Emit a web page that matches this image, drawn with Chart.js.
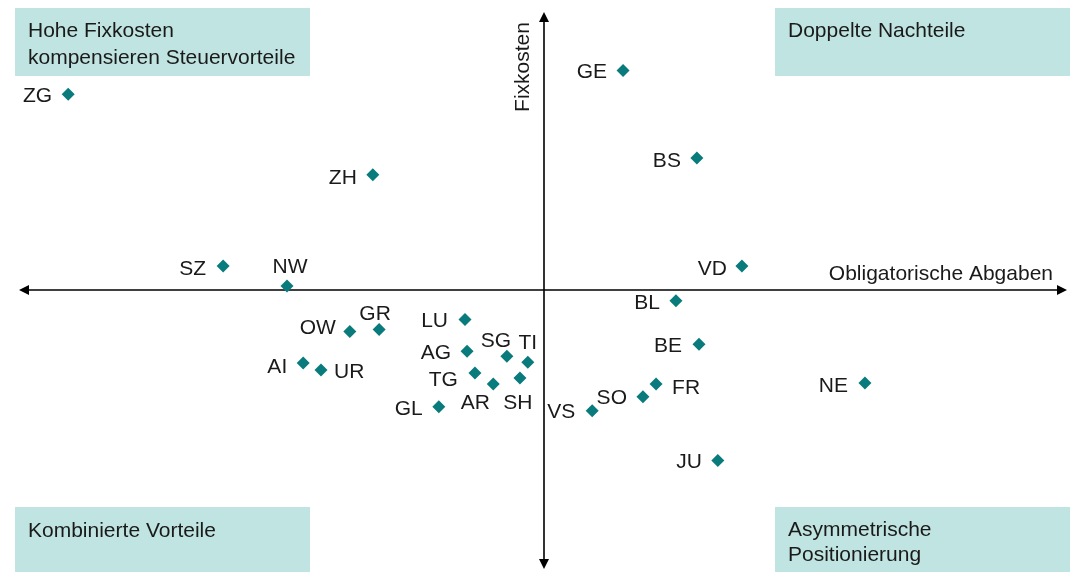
<!DOCTYPE html>
<html>
<head>
<meta charset="utf-8">
<script src="https://cdn.jsdelivr.net/npm/chart.js@4.4.0/dist/chart.umd.min.js"></script>
<style>
  html, body { margin: 0; padding: 0; background: #ffffff; }
  #wrap { width: 1077px; height: 572px; }
</style>
</head>
<body>
<div id="wrap"><canvas id="c" width="1077" height="572"></canvas></div>
<script>
// ---- Data ----
const cantons = ["ZG","GE","ZH","BS","SZ","NW","VD","BL","GR","OW","LU","AG","SG","TI","AI","UR","TG","AR","SH","GL","BE","FR","SO","VS","NE","JU"];
const abgaben = [-90.8, 15.2, -32.6, 29.3, -61.2, -49.0, 37.9, 25.3, -31.4, -37.0, -15.0, -14.6, -7.0, -3.0, -45.9, -42.5, -13.1, -9.6, -4.5, -20.0, 29.7, 21.5, 19.0, 9.3, 61.4, 33.3];
const fixkosten = [70.9, 79.5, 41.7, 47.8, 8.6, 1.4, 8.6, -4.0, -14.4, -15.1, -10.8, -22.3, -24.1, -26.3, -26.6, -29.1, -30.2, -34.2, -32.0, -42.4, -19.8, -34.2, -38.8, -43.9, -33.8, -61.9];
const xAxisTitle = "Obligatorische Abgaben";
const yAxisTitle = "Fixkosten";
const quadrantTitles = {
  tl: ["Hohe Fixkosten", "kompensieren Steuervorteile"],
  tr: ["Doppelte Nachteile"],
  bl: ["Kombinierte Vorteile"],
  br: ["Asymmetrische", "Positionierung"]
};

// ---- Styling: label placement per canton [align, dx, dy] ----
const labelPlacement = {
  ZG:["r",-16,0], GE:["r",-16,0], ZH:["r",-16,2], BS:["r",-16,2], SZ:["r",-17,1],
  VD:["r",-15,1], BL:["r",-16,1], OW:["r",-14,-5], LU:["r",-17,0], AG:["r",-16,0],
  AI:["r",-16,2], TG:["r",-17,5], GL:["r",-16,1], BE:["r",-17,0], SO:["r",-16,0],
  VS:["r",-17,0], NE:["r",-17,2], JU:["r",-16,0],
  UR:["l",13,1], FR:["l",16,2],
  NW:["c",3,-20], GR:["c",-4,-17], SG:["c",-11,-17], TI:["c",0,-21], AR:["c",-18,17], SH:["c",-2,24]
};

const FONT = '21px "Liberation Sans", Arial, sans-serif';
const TEXT = '#1a1a1a';
const BOX = '#bfe4e1';
const MARK = '#0a7b7c';

const points = cantons.map((c, i) => ({ x: abgaben[i], y: fixkosten[i], label: c }));

const decor = {
  id: 'decor',
  beforeDatasetsDraw(chart) {
    const ctx = chart.ctx;
    const xs = chart.scales.x, ys = chart.scales.y;
    const cx = Math.round(xs.getPixelForValue(0)), cy = Math.round(ys.getPixelForValue(0));
    ctx.save();
    // quadrant boxes
    const boxes = [
      [15, 8, 295, 68, quadrantTitles.tl, 37, 27],
      [775, 8, 295, 68, quadrantTitles.tr, 37, 27],
      [15, 507, 295, 70, quadrantTitles.bl, 537, 25],
      [775, 507, 295, 70, quadrantTitles.br, 536, 25]
    ];
    ctx.font = FONT;
    boxes.forEach(b => {
      ctx.fillStyle = BOX;
      ctx.fillRect(b[0], b[1], b[2], b[3]);
      ctx.fillStyle = TEXT;
      ctx.textAlign = 'left';
      ctx.textBaseline = 'alphabetic';
      b[4].forEach((t, k) => ctx.fillText(t, b[0] + 13, b[5] + k * b[6]));
    });
    // axes
    ctx.strokeStyle = '#000';
    ctx.fillStyle = '#000';
    ctx.lineWidth = 1.6;
    const L = 19, R = 1067, T = 12, B = 569;
    ctx.beginPath();
    ctx.moveTo(L + 6, cy); ctx.lineTo(R - 6, cy);
    ctx.moveTo(cx, T + 6); ctx.lineTo(cx, B - 6);
    ctx.stroke();
    const tri = (p) => { ctx.beginPath(); ctx.moveTo(p[0], p[1]); ctx.lineTo(p[2], p[3]); ctx.lineTo(p[4], p[5]); ctx.closePath(); ctx.fill(); };
    tri([L, cy, L + 10, cy - 5, L + 10, cy + 5]);
    tri([R, cy, R - 10, cy - 5, R - 10, cy + 5]);
    tri([cx, T, cx - 5, T + 10, cx + 5, T + 10]);
    tri([cx, B, cx - 5, B - 10, cx + 5, B - 10]);
    // axis titles
    ctx.fillStyle = TEXT;
    ctx.font = FONT;
    ctx.textAlign = 'right';
    ctx.textBaseline = 'alphabetic';
    ctx.fillText(xAxisTitle, 1053, 280);
    ctx.save();
    ctx.translate(529, 67);
    ctx.rotate(-Math.PI / 2);
    ctx.textAlign = 'center';
    ctx.fillText(yAxisTitle, 0, 0);
    ctx.restore();
    ctx.restore();
  },
  afterDatasetsDraw(chart) {
    const ctx = chart.ctx;
    const meta = chart.getDatasetMeta(0);
    ctx.save();
    ctx.font = FONT;
    ctx.fillStyle = TEXT;
    ctx.textBaseline = 'alphabetic';
    meta.data.forEach((el, i) => {
      const c = cantons[i];
      const p = labelPlacement[c] || ["r", -16, 0];
      ctx.textAlign = p[0] === 'r' ? 'right' : (p[0] === 'l' ? 'left' : 'center');
      ctx.fillText(c, el.x + p[1], el.y + p[2] + 7.5);
    });
    ctx.restore();
  }
};

new Chart(document.getElementById('c'), {
  type: 'scatter',
  data: {
    datasets: [{
      data: points,
      pointStyle: 'rectRot',
      pointRadius: 6.5,
      pointHoverRadius: 6.5,
      backgroundColor: MARK,
      borderColor: MARK,
      borderWidth: 0
    }]
  },
  options: {
    responsive: false,
    animation: false,
    events: [],
    layout: { padding: { left: 20, right: 10, top: 14, bottom: 2 } },
    plugins: { legend: { display: false }, tooltip: { enabled: false } },
    scales: {
      x: { type: 'linear', min: -100, max: 100, display: false },
      y: { type: 'linear', min: -100, max: 100, display: false }
    }
  },
  plugins: [decor]
});
</script>
</body>
</html>
